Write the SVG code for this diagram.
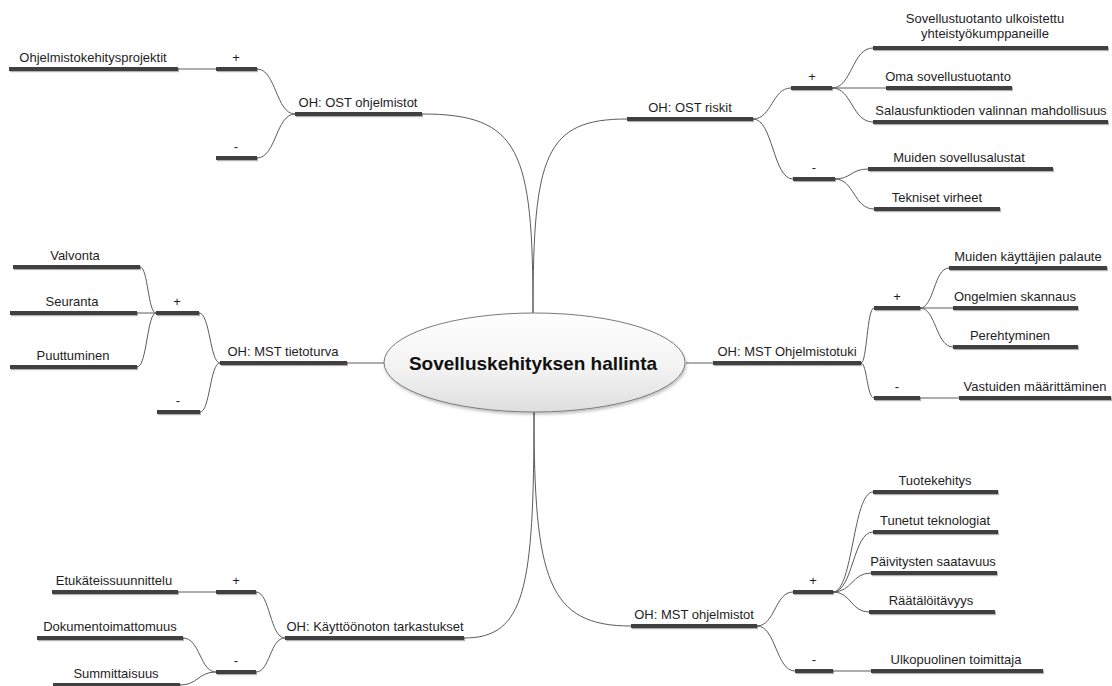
<svg xmlns="http://www.w3.org/2000/svg" width="1112" height="686" viewBox="0 0 1112 686">
  <defs>
    <linearGradient id="coreFill" x1="0" y1="0" x2="0" y2="1">
      <stop offset="0" stop-color="#ffffff"/>
      <stop offset="0.55" stop-color="#f3f3f3"/>
      <stop offset="1" stop-color="#dedede"/>
    </linearGradient>
    <filter id="barShadow" filterUnits="userSpaceOnUse" x="0" y="0" width="1112" height="686">
      <feDropShadow dx="1" dy="1.2" stdDeviation="0.7" flood-color="#000000" flood-opacity="0.3"/>
    </filter>
    <filter id="coreShadow" x="-10%" y="-10%" width="120%" height="130%">
      <feDropShadow dx="1" dy="2" stdDeviation="1.5" flood-color="#000000" flood-opacity="0.25"/>
    </filter>
  </defs>
  <style>
    .bar { fill: #404040; filter: url(#barShadow); }
    .lbl { font-family: "Liberation Sans", Arial, sans-serif; font-size: 13px; fill: #1e1e1e; text-anchor: middle; }
    .title { font-family: "Liberation Sans", Arial, sans-serif; font-size: 19px; font-weight: bold; fill: #111111; text-anchor: middle; }
    .con { fill: none; stroke: #5c5c5c; stroke-width: 1; }
  </style>
  <rect width="1112" height="686" fill="#ffffff"/>

  <!-- connectors -->
  <g id="connectors" class="con">
    <!-- hub -->
    <path d="M422,114 C520,114 533,150 533,313"/>
    <path d="M627,119 C545,119 533,155 533,313"/>
    <path d="M347,363 H384"/>
    <path d="M686,363 H713"/>
    <path d="M534,412 C534,590 525,638 464,638"/>
    <path d="M534,412 C534,580 548,626 631,626"/>
    <!-- OH: OST ohjelmistot -->
    <path d="M178,69 H216"/>
    <path d="M257,69 C276,69 276,114 295,114"/>
    <path d="M257,158 C276,158 276,114 295,114"/>
    <!-- OH: OST riskit -->
    <path d="M753,119 C772,119 772,88 791,88"/>
    <path d="M753,119 C773,119 773,179 793,179"/>
    <path d="M832,88 C852,88 852,48 873,48"/>
    <path d="M832,88 H886"/>
    <path d="M832,88 C852,88 852,122 873,122"/>
    <path d="M835,179 C851,179 851,169 868,169"/>
    <path d="M835,179 C854,179 854,209 874,209"/>
    <!-- OH: MST Ohjelmistotuki -->
    <path d="M861,363 C867,363 867,308 874,308"/>
    <path d="M861,363 C867,363 867,398 874,398"/>
    <path d="M920,308 C934,308 934,268 949,268"/>
    <path d="M920,308 H953"/>
    <path d="M920,308 C936,308 936,347 953,347"/>
    <path d="M920,398 H959"/>
    <!-- OH: MST tietoturva -->
    <path d="M140,267 C148,267 148,313 156,313"/>
    <path d="M137,313 H156"/>
    <path d="M137,367 C147,367 147,313 156,313"/>
    <path d="M199,313 C210,313 210,363 220,363"/>
    <path d="M200,412 C210,412 210,363 220,363"/>
    <!-- OH: Käyttöönoton tarkastukset -->
    <path d="M178,592 H216"/>
    <path d="M256,592 C270,592 270,638 285,638"/>
    <path d="M256,672 C270,672 270,638 285,638"/>
    <path d="M183,638 C200,638 200,672 216,672"/>
    <path d="M180,685 C198,685 198,672 216,672"/>
    <!-- OH: MST ohjelmistot -->
    <path d="M757,626 C775,626 775,592 793,592"/>
    <path d="M757,626 C776,626 776,671 795,671"/>
    <path d="M833,592 C853,592 853,492 873,492"/>
    <path d="M833,592 C853,592 853,532 873,532"/>
    <path d="M833,592 C852,592 852,573 871,573"/>
    <path d="M833,592 C851,592 851,612 869,612"/>
    <path d="M833,671 H871"/>
  </g>

  <!-- central topic -->
  <g id="n-core">
    <ellipse cx="534.5" cy="362.5" rx="150.5" ry="49.5" fill="url(#coreFill)" stroke="#7a7a7a" stroke-width="1" filter="url(#coreShadow)"/>
    <text class="title" x="533" y="370">Sovelluskehityksen hallinta</text>
  </g>

  <!-- OH: OST ohjelmistot branch -->
  <g id="n-ost-ohjelmistot"><rect class="bar" x="295" y="112" width="127" height="4"/><text class="lbl" x="358" y="106.5">OH: OST ohjelmistot</text></g>
  <g id="n-ost-ohjelmistot-plus"><rect class="bar" x="216" y="67" width="41" height="4"/><text class="lbl" x="236" y="61.5">+</text></g>
  <g id="n-ost-ohjelmistot-minus"><rect class="bar" x="216" y="156" width="41" height="4"/><text class="lbl" x="236" y="150.5">-</text></g>
  <g id="n-ohjelmistokehitysprojektit"><rect class="bar" x="9" y="67" width="169" height="4"/><text class="lbl" x="93" y="61.5">Ohjelmistokehitysprojektit</text></g>

  <!-- OH: OST riskit branch -->
  <g id="n-ost-riskit"><rect class="bar" x="627" y="117" width="126" height="4"/><text class="lbl" x="690" y="111.5">OH: OST riskit</text></g>
  <g id="n-ost-riskit-plus"><rect class="bar" x="791" y="86" width="41" height="4"/><text class="lbl" x="812" y="80.5">+</text></g>
  <g id="n-ost-riskit-minus"><rect class="bar" x="793" y="177" width="42" height="4"/><text class="lbl" x="814" y="171.5">-</text></g>
  <g id="n-ulkoistettu"><rect class="bar" x="873" y="46" width="235" height="4"/><text class="lbl" x="985" y="23">Sovellustuotanto ulkoistettu</text><text class="lbl" x="985" y="38">yhteistyökumppaneille</text></g>
  <g id="n-oma-tuotanto"><rect class="bar" x="886" y="86" width="126" height="4"/><text class="lbl" x="948" y="80.5">Oma sovellustuotanto</text></g>
  <g id="n-salausfunktiot"><rect class="bar" x="873" y="120" width="235" height="4"/><text class="lbl" x="991" y="114.5">Salausfunktioden valinnan mahdollisuus</text></g>
  <g id="n-muiden-alustat"><rect class="bar" x="868" y="167" width="185" height="4"/><text class="lbl" x="959" y="161.5">Muiden sovellusalustat</text></g>
  <g id="n-tekniset-virheet"><rect class="bar" x="874" y="207" width="126" height="4"/><text class="lbl" x="937" y="201.5">Tekniset virheet</text></g>

  <!-- OH: MST tietoturva branch -->
  <g id="n-mst-tietoturva"><rect class="bar" x="220" y="361" width="127" height="4"/><text class="lbl" x="283" y="355.5">OH: MST tietoturva</text></g>
  <g id="n-tietoturva-plus"><rect class="bar" x="156" y="311" width="43" height="4"/><text class="lbl" x="177" y="305.5">+</text></g>
  <g id="n-tietoturva-minus"><rect class="bar" x="157" y="410" width="43" height="4"/><text class="lbl" x="178" y="404.5">-</text></g>
  <g id="n-valvonta"><rect class="bar" x="13" y="265" width="127" height="4"/><text class="lbl" x="75" y="259.5">Valvonta</text></g>
  <g id="n-seuranta"><rect class="bar" x="10" y="311" width="127" height="4"/><text class="lbl" x="72" y="305.5">Seuranta</text></g>
  <g id="n-puuttuminen"><rect class="bar" x="10" y="365" width="127" height="4"/><text class="lbl" x="73" y="359.5">Puuttuminen</text></g>

  <!-- OH: MST Ohjelmistotuki branch -->
  <g id="n-mst-ohjelmistotuki"><rect class="bar" x="713" y="361" width="148" height="4"/><text class="lbl" x="787" y="355.5">OH: MST Ohjelmistotuki</text></g>
  <g id="n-ohjelmistotuki-plus"><rect class="bar" x="874" y="306" width="46" height="4"/><text class="lbl" x="897" y="300.5">+</text></g>
  <g id="n-ohjelmistotuki-minus"><rect class="bar" x="874" y="396" width="46" height="4"/><text class="lbl" x="897" y="390.5">-</text></g>
  <g id="n-palaute"><rect class="bar" x="949" y="266" width="158" height="4"/><text class="lbl" x="1028" y="260.5">Muiden käyttäjien palaute</text></g>
  <g id="n-skannaus"><rect class="bar" x="953" y="306" width="125" height="4"/><text class="lbl" x="1015" y="300.5">Ongelmien skannaus</text></g>
  <g id="n-perehtyminen"><rect class="bar" x="953" y="345" width="125" height="4"/><text class="lbl" x="1010" y="339.5">Perehtyminen</text></g>
  <g id="n-vastuut"><rect class="bar" x="959" y="396" width="152" height="4"/><text class="lbl" x="1035" y="390.5">Vastuiden määrittäminen</text></g>

  <!-- OH: Käyttöönoton tarkastukset branch -->
  <g id="n-kayttoonotto"><rect class="bar" x="285" y="636" width="179" height="4"/><text class="lbl" x="375" y="630.5">OH: Käyttöönoton tarkastukset</text></g>
  <g id="n-kayttoonotto-plus"><rect class="bar" x="216" y="590" width="40" height="4"/><text class="lbl" x="236" y="584.5">+</text></g>
  <g id="n-kayttoonotto-minus"><rect class="bar" x="216" y="670" width="40" height="4"/><text class="lbl" x="236" y="664.5">-</text></g>
  <g id="n-etukateissuunnittelu"><rect class="bar" x="52" y="590" width="126" height="4"/><text class="lbl" x="114" y="584.5">Etukäteissuunnittelu</text></g>
  <g id="n-dokumentoimattomuus"><rect class="bar" x="37" y="636" width="146" height="4"/><text class="lbl" x="110" y="630.5">Dokumentoimattomuus</text></g>
  <g id="n-summittaisuus"><rect class="bar" x="53" y="683" width="127" height="4"/><text class="lbl" x="116" y="677.5">Summittaisuus</text></g>

  <!-- OH: MST ohjelmistot branch -->
  <g id="n-mst-ohjelmistot"><rect class="bar" x="631" y="624" width="126" height="4"/><text class="lbl" x="694" y="618.5">OH: MST ohjelmistot</text></g>
  <g id="n-mst-ohjelmistot-plus"><rect class="bar" x="793" y="590" width="40" height="4"/><text class="lbl" x="813" y="584.5">+</text></g>
  <g id="n-mst-ohjelmistot-minus"><rect class="bar" x="795" y="669" width="38" height="4"/><text class="lbl" x="814" y="663.5">-</text></g>
  <g id="n-tuotekehitys"><rect class="bar" x="873" y="490" width="125" height="4"/><text class="lbl" x="935" y="484.5">Tuotekehitys</text></g>
  <g id="n-tunetut"><rect class="bar" x="873" y="530" width="125" height="4"/><text class="lbl" x="935" y="524.5">Tunetut teknologiat</text></g>
  <g id="n-paivitykset"><rect class="bar" x="871" y="571" width="126" height="4"/><text class="lbl" x="933" y="565.5">Päivitysten saatavuus</text></g>
  <g id="n-raataloitavyys"><rect class="bar" x="869" y="610" width="126" height="4"/><text class="lbl" x="931" y="604.5">Räätälöitävyys</text></g>
  <g id="n-ulkopuolinen"><rect class="bar" x="871" y="669" width="172" height="4"/><text class="lbl" x="956" y="663.5">Ulkopuolinen toimittaja</text></g>
</svg>
